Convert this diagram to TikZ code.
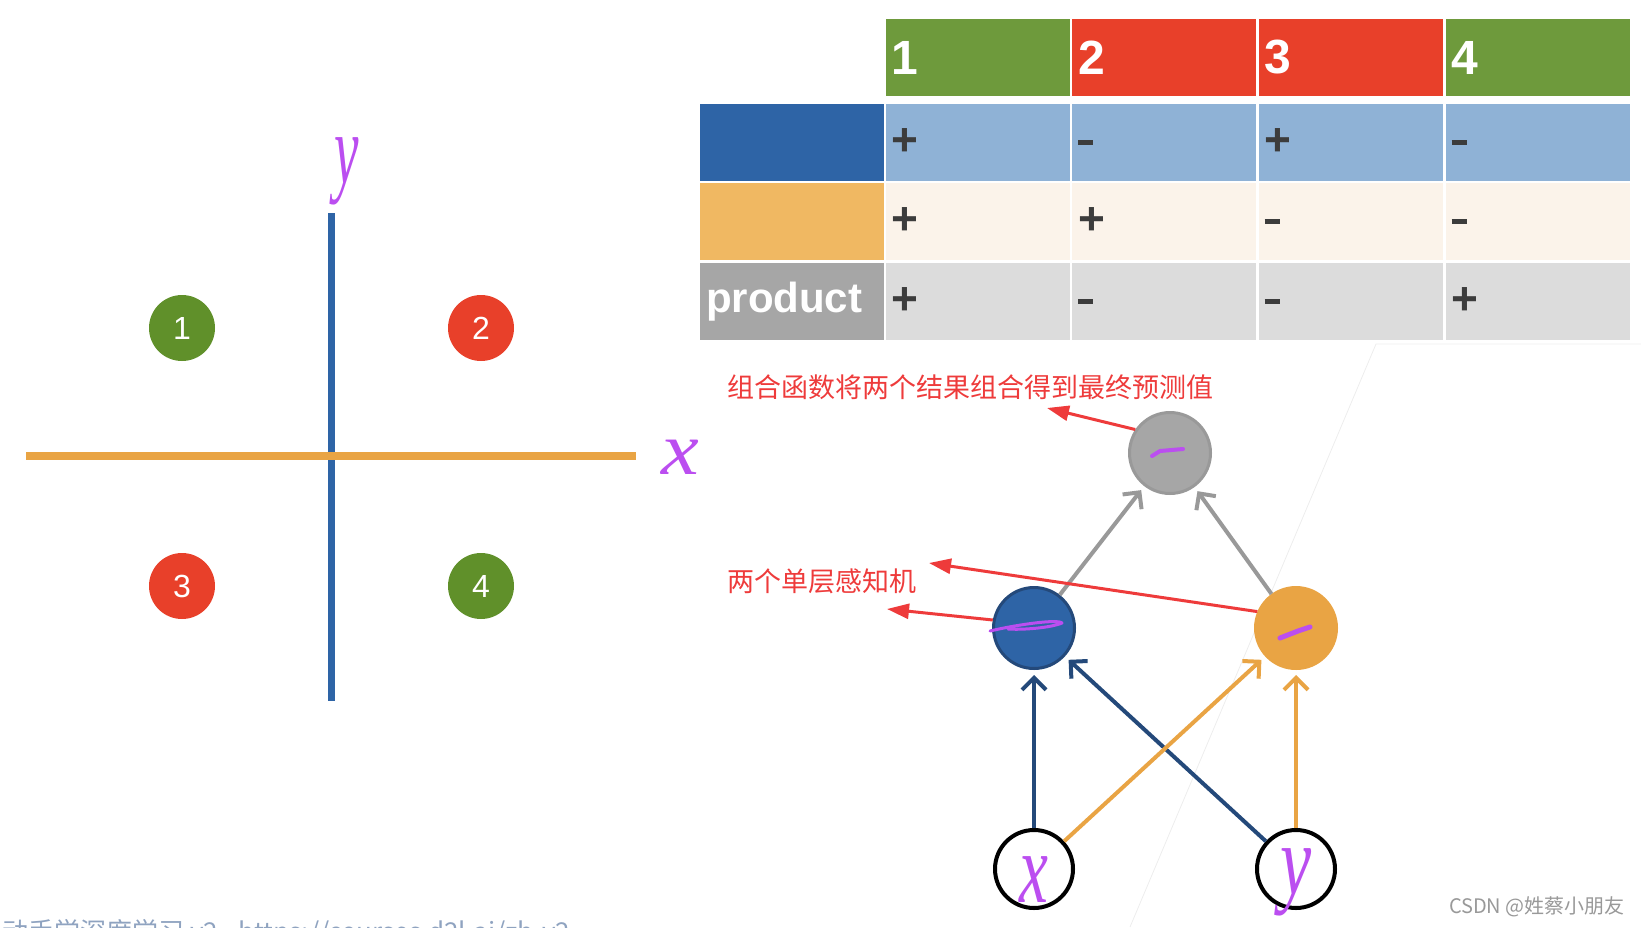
\documentclass[tikz,border=0pt]{standalone}
\usepackage{fontspec}
\setmainfont{Liberation Sans}
\newfontfamily\cjk{Noto Sans CJK SC}
\newfontfamily\handfont{Liberation Serif}
\usetikzlibrary{arrows.meta}

\definecolor{cgreen}{HTML}{6E9A3C}
\definecolor{dgreen}{HTML}{60902A}
\definecolor{cred}{HTML}{E8402A}
\definecolor{cblue}{HTML}{2E64A6}
\definecolor{lblue}{HTML}{8FB2D6}
\definecolor{corange}{HTML}{F0B862}
\definecolor{lorange}{HTML}{FBF3EA}
\definecolor{cgray}{HTML}{A6A6A6}
\definecolor{lgray}{HTML}{DCDCDC}
\definecolor{sign}{HTML}{3C3C3C}
\definecolor{ink}{HTML}{BB4EF0}
\definecolor{nblue}{HTML}{24497A}
\definecolor{norange}{HTML}{E9A444}
\definecolor{ngray}{HTML}{999999}
\definecolor{note}{HTML}{EE3B3B}
\definecolor{wmark}{HTML}{8FA3C0}

\newcommand{\dashsign}{\rule[-2pt]{15pt}{5pt}}

\begin{document}
\begin{tikzpicture}[x=1pt,y=-1pt]

\tikzset{cell/.style={rectangle,minimum height=77pt,text width=172pt,inner xsep=6pt,inner ysep=0pt,align=left,font=\bfseries\fontsize{46}{46}\selectfont,text=sign},}
\tikzset{head/.style={cell,text=white,font=\bfseries\fontsize{48}{48}\selectfont},}
\tikzset{dot/.style={circle,minimum size=66pt,inner sep=0pt,text=white,font=\fontsize{32}{32}\selectfont},}
\tikzset{neuron/.style={circle,minimum size=81pt,inner sep=0pt,line width=3pt},}
\tikzset{input/.style={circle,minimum size=78pt,inner sep=0pt,line width=4pt,draw=black,fill=white},}
\tikzset{hand/.style={text=ink,inner sep=0pt,font=\handfont\itshape\fontsize{100}{100}\selectfont},}
\tikzset{feed/.style={-{Straight Barb[length=12pt,width=24pt]}, line width=4pt, shorten >=5pt},}
\tikzset{pointer/.style={-{Triangle[length=22pt,width=15pt]}, line width=3pt, note},}
\tikzset{stroke/.style={ink, line cap=round, line join=round},}

\clip (0,0) rectangle (1641,927);

% faint corner left on the slide
\draw[black!7,line width=0.8pt] (1641,344) -- (1376,344) -- (1130,927);

% quadrants
\draw[cblue,line width=7pt] (331,213) -- (331,701);
\draw[norange,line width=8pt] (26,456) -- (636,456);
\draw
	(182,328) node[dot,fill=dgreen] (q1) {1}
	(481,328) node[dot,fill=cred] (q2) {2}
	(182,586) node[dot,fill=cred] (q3) {3}
	(481,586) node[dot,fill=dgreen] (q4) {4}
	(347,171) node[hand,xscale=0.55] (ay) {y}
	(680,457) node[hand,xscale=0.85,yscale=0.75] (ax) {x};

% sign table
\draw
	(977.5,57.5) node[head,fill=cgreen] (hd1) {1}
	(1164,57.5) node[head,fill=cred] (hd2) {2}
	(1350.5,57.5) node[head,fill=cred] (hd3) {3}
	(1537.5,57.5) node[head,fill=cgreen] (hd4) {4}
	(792,142) node[cell,fill=cblue] (rb) {}
	(792,221) node[cell,fill=corange] (ro) {}
	(792,301.5) node[cell,fill=cgray,text=white,font=\bfseries\fontsize{42}{42}\selectfont] (rp) {product}
	(977.5,142) node[cell,fill=lblue] (b1) {+}
	(1164,142) node[cell,fill=lblue] (b2) {\dashsign}
	(1350.5,142) node[cell,fill=lblue] (b3) {+}
	(1537.5,142) node[cell,fill=lblue] (b4) {\dashsign}
	(977.5,221) node[cell,fill=lorange] (o1) {+}
	(1164,221) node[cell,fill=lorange] (o2) {+}
	(1350.5,221) node[cell,fill=lorange] (o3) {\dashsign}
	(1537.5,221) node[cell,fill=lorange] (o4) {\dashsign}
	(977.5,301.5) node[cell,fill=lgray] (p1) {+}
	(1164,301.5) node[cell,fill=lgray] (p2) {\dashsign}
	(1350.5,301.5) node[cell,fill=lgray] (p3) {\dashsign}
	(1537.5,301.5) node[cell,fill=lgray] (p4) {+};

% network
\draw
	(1170,453) node[neuron,fill=cgray,draw=ngray] (out) {}
	(1034,628) node[neuron,fill=cblue,draw=nblue] (hb) {}
	(1296,628) node[neuron,fill=norange,draw=norange] (ho) {}
	(1034,869) node[input] (ix) {}
	(1296,869) node[input] (iy) {};

\draw[feed,nblue] (ix) -- (hb);
\draw[feed,nblue] (iy) -- (hb);
\draw[feed,norange] (ix) -- (ho);
\draw[feed,norange] (iy) -- (ho);
\draw[feed,ngray] (hb) -- (out);
\draw[feed,ngray] (ho) -- (out);

\draw[stroke,line width=4pt] (1152,456) -- (1160,451) -- (1183,449);
\draw[stroke,line width=3pt] (990,631) .. controls (1020,624) and (1058,619) .. (1062,623) .. controls (1050,628) and (1022,630) .. (1008,629);
\draw[stroke,line width=5pt] (1280,638) -- (1298,631) -- (1310,627);
\node[hand,xscale=0.65] (lx) at (1034,880) {x};
\node[hand,xscale=0.7] (ly) at (1296,882) {y};

% notes
\coordinate (t1) at (1047,408);
\coordinate (t2) at (929,563);
\coordinate (t3) at (887,609);
\node[anchor=west,inner sep=0pt,text=note,font=\cjk\fontsize{27}{27}\selectfont] (n1) at (727,387) {组合函数将两个结果组合得到最终预测值};
\node[anchor=west,inner sep=0pt,text=note,font=\cjk\fontsize{27}{27}\selectfont] (n2) at (727,581) {两个单层感知机};
\draw[pointer] (out.146) -- (t1);
\draw[pointer] (ho.157) -- (t2);
\draw[pointer] (hb.169) -- (t3);

% watermarks
\node[anchor=north west,inner sep=0pt,text=wmark,font=\cjk\fontsize{26}{26}\selectfont] (wm) at (2,919) {动手学深度学习 v2 - https://courses.d2l.ai/zh-v2};
\node[anchor=east,inner sep=0pt,text=black!40,font=\cjk\fontsize{20}{20}\selectfont] (csdn) at (1625,907) {CSDN @姓蔡小朋友};

\end{tikzpicture}
\end{document}
